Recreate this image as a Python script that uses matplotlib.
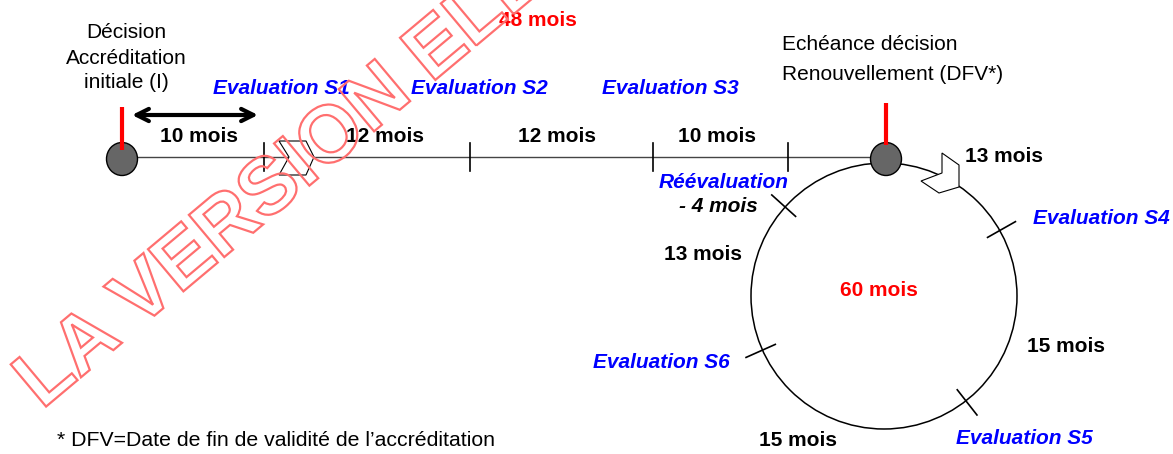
import numpy as np
import matplotlib
matplotlib.use("Agg")
import matplotlib.pyplot as plt
from matplotlib.patches import Ellipse, Circle, Polygon, PathPatch
from matplotlib.textpath import TextPath
from matplotlib.font_manager import FontProperties
from matplotlib.transforms import Affine2D

plt.rcParams['font.family'] = ['Liberation Sans', 'DejaVu Sans']

# durations (months)
line_months = [10, 12, 12, 10]
line_evals = ['Evaluation S1', 'Evaluation S2', 'Evaluation S3']
reeval_months = 4
first_cycle = 48
cycle_months = [13, 15, 15, 13]
cycle_evals = ['Evaluation S4', 'Evaluation S5', 'Evaluation S6']
cycle_total = 60

# layout (pixels)
y_line = 157
x_start, x_end = 122, 886
line_ticks = [264, 470, 653, 788]
line_label_x = [199, 385, 557, 717]
eval_x = [281, 479, 670]
cx, cy, r = 884, 296, 133
cycle_tick_deg = [60.5, 142, 246, 312]  # clockwise from top: S4, S5, S6, reeval

BLUE = '#0000ff'
RED = '#ff0000'

fig = plt.figure(figsize=(11.73, 4.54), dpi=100)
ax = fig.add_axes([0, 0, 1, 1])
ax.set_xlim(0, 1173)
ax.set_ylim(454, 0)
ax.axis('off')

# main timeline
ax.plot([x_start, x_end], [y_line, y_line], color='#444444', lw=1.0, zorder=1)
for x in line_ticks:
    ax.plot([x, x], [y_line - 14, y_line + 14], color='black', lw=1.2, zorder=2)

# chevron on timeline
ax.add_patch(Polygon([(279, 141), (306, 141), (314, 157), (306, 175), (279, 175), (289, 157)],
                     closed=True, facecolor='white', edgecolor='black', lw=0.8, zorder=3))

# renewal cycle
ax.add_patch(Circle((cx, cy), r, facecolor='none', edgecolor='black', lw=1.1, zorder=1))
for d in cycle_tick_deg:
    t = np.deg2rad(d)
    ux, uy = np.sin(t), -np.cos(t)
    ax.plot([cx + ux * (r - 14), cx + ux * (r + 18)], [cy + uy * (r - 14), cy + uy * (r + 18)],
            color='black', lw=1.2, zorder=2)

ax.add_patch(Polygon([(942, 153), (959, 165), (959, 187), (939, 193), (921, 181), (942, 173)],
                     closed=True, facecolor='white', edgecolor='black', lw=0.8, zorder=3))

# decision markers
for x in (x_start, x_end):
    ax.add_patch(Ellipse((x, y_line + 2), 31, 33, facecolor='#666666', edgecolor='black', lw=1.0, zorder=4))
ax.plot([x_start, x_start], [107, 150], color=RED, lw=3, zorder=5, solid_capstyle='butt')
ax.plot([x_end, x_end], [103, 145], color=RED, lw=3, zorder=5, solid_capstyle='butt')

# double arrow
ax.annotate('', xy=(132, 115), xytext=(258, 115),
            arrowprops=dict(arrowstyle='<->', lw=3, color='black', mutation_scale=22,
                            shrinkA=0, shrinkB=0))

fs = 15
for i, line in enumerate(['Décision', 'Accréditation', 'initiale (I)']):
    ax.text(126, 33 + 25 * i, line, ha='center', va='center', fontsize=fs)
ax.text(782, 45, 'Echéance décision', ha='left', va='center', fontsize=fs)
ax.text(782, 74, 'Renouvellement (DFV*)', ha='left', va='center', fontsize=fs)

ax.text(538, 20, f'{first_cycle} mois', ha='center', va='center', fontsize=fs, color=RED, weight='bold')
for x, lab in zip(eval_x, line_evals):
    ax.text(x, 89, lab, ha='center', va='center', fontsize=fs, color=BLUE, weight='bold', style='italic')
for x, m in zip(line_label_x, line_months):
    ax.text(x, 137, f'{m} mois', ha='center', va='center', fontsize=fs, weight='bold')

ax.text(724, 183, 'Réévaluation', ha='center', va='center', fontsize=fs, color=BLUE, weight='bold', style='italic')
ax.text(718, 207, f'- {reeval_months} mois', ha='center', va='center', fontsize=fs, weight='bold', style='italic')

ax.text(879, 290, f'{cycle_total} mois', ha='center', va='center', fontsize=fs, color=RED, weight='bold')
cycle_label_pos = [(1004, 157), (1066, 347), (798, 440), (703, 255)]
for (x, y), m in zip(cycle_label_pos, cycle_months):
    ax.text(x, y, f'{m} mois', ha='center', va='center', fontsize=fs, weight='bold')
ax.text(1033, 218, cycle_evals[0], ha='left', va='center', fontsize=fs, color=BLUE, weight='bold', style='italic')
ax.text(1024, 438, cycle_evals[1], ha='center', va='center', fontsize=fs, color=BLUE, weight='bold', style='italic')
ax.text(730, 362, cycle_evals[2], ha='right', va='center', fontsize=fs, color=BLUE, weight='bold', style='italic')

ax.text(57, 440, '* DFV=Date de fin de validité de l\u2019accréditation', ha='left', va='center', fontsize=15.3)

# watermark (outlined text)
tp = TextPath((0, 0), 'LA VERSION ELECTRONIQUE FAIT FOI', size=80,
              prop=FontProperties(family='Liberation Sans', weight='bold'))
tr = Affine2D().scale(1, -1).rotate_deg(-40).translate(42, 410)
ax.add_patch(PathPatch(tr.transform_path(tp), facecolor='none', edgecolor='#ff6f6f', lw=1.6, zorder=6))

fig.savefig('out.png', dpi=100)
